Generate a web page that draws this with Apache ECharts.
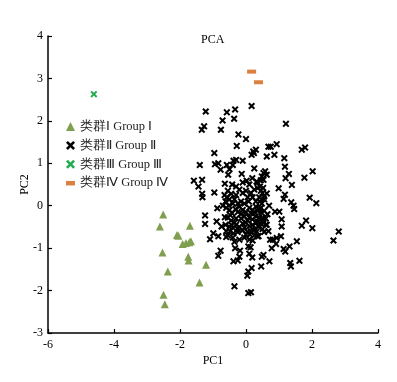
<!DOCTYPE html>
<html><head><meta charset="utf-8">
<script src="https://cdn.jsdelivr.net/npm/echarts@6/dist/echarts.min.js"></script>
<style>html,body{margin:0;padding:0;background:#fff}#c{width:397px;height:382px}</style>
</head><body><div id="c"></div>
<script>
const seriesNames = ['类群Ⅰ Group Ⅰ','类群Ⅱ Group Ⅱ','类群Ⅲ Group Ⅲ','类群Ⅳ Group Ⅳ'];
const xTicks = [-6,-4,-2,0,2,4];
const yTicks = [-3,-2,-1,0,1,2,3,4];
const group1 = [
[-2.51,-0.21],[-2.61,-0.49],[-1.70,-0.47],[-2.09,-0.69],[-2.05,-0.71],[-1.92,-0.90],[-1.82,-0.88],
[-1.72,-0.86],[-1.67,-0.84],[-1.75,-1.20],[-1.74,-1.29],[-2.53,-1.10],[-2.37,-1.55],[-1.21,-1.39],
[-1.41,-1.81],[-2.50,-2.10],[-2.46,-2.32]
];
const group2 = [
[-1.22,2.22],[-0.58,2.20],[-0.33,2.27],[0.17,2.35],[-0.71,2.01],[-0.36,2.05],[-1.27,1.87],[-1.34,1.79],
[-0.76,1.79],[1.21,1.93],[-0.23,1.68],[0.00,1.57],[-0.28,1.41],[0.68,1.39],[0.75,1.39],[0.93,1.45],
[1.69,1.32],[1.79,1.37],[-0.96,1.24],[0.22,1.28],[0.30,1.32],[0.63,1.16],[0.86,1.20],[1.16,1.12],
[-1.40,0.96],[-0.94,0.98],[-0.84,1.00],[-0.38,1.06],[-0.30,1.08],[-0.10,1.06],[0.17,1.20],[0.24,1.24],
[-0.77,0.85],[-0.58,0.96],[-0.50,0.86],[-0.40,0.96],[0.25,0.88],[0.58,0.81],[0.53,0.77],[0.48,0.69],
[0.63,0.73],[0.53,0.61],[1.18,0.92],[1.30,0.75],[1.20,0.65],[2.02,0.81],[1.77,0.66],[-1.58,0.59],
[-1.33,0.61],[-1.44,0.45],[-0.64,0.52],[-0.54,0.73],[-0.13,0.75],[0.02,0.59],[-0.10,0.55],[0.19,0.65],
[0.32,0.57],[1.39,0.49],[0.99,0.41],[-0.96,0.31],[-1.33,0.28],[-1.32,0.20],[1.18,0.26],[1.14,0.16],
[1.93,0.19],[2.13,0.06],[1.37,0.08],[1.44,0.00],[1.46,-0.08],[-0.87,-0.06],[-1.24,-0.23],[-1.24,-0.43],
[-0.89,-0.37],[0.88,-0.14],[1.01,-0.14],[1.08,-0.32],[1.08,-0.49],[1.69,-0.47],[1.82,-0.35],[2.01,-0.53],
[2.65,-0.82],[2.81,-0.61],[-1.09,-0.79],[-0.99,-0.65],[-0.84,-0.72],[-0.60,-0.74],[-0.77,-1.06],[-0.84,-1.18],
[0.38,-0.72],[0.73,-0.80],[0.81,-0.80],[0.93,-0.76],[1.06,-0.72],[0.91,-0.90],[0.78,-1.00],[1.14,-1.02],
[1.19,-1.08],[1.32,-0.96],[1.54,-0.84],[1.34,-1.35],[1.36,-1.43],[1.62,-1.30],[0.71,-1.31],[0.48,-1.20],
[0.53,-1.16],[0.46,-1.43],[0.17,-1.47],[0.07,-1.55],[0.04,-1.65],[0.07,-2.06],[0.15,-2.04],[-0.35,-1.90],
[-0.38,-1.31],[-0.25,-1.29],[-0.20,-1.20],[-0.18,-1.06],[-0.33,-1.00],[0.07,-0.96],[0.14,-0.98],[0.10,-1.13],
[0.19,-1.22],
[-0.55,0.35],[-0.45,0.28],[-0.50,0.15],[-0.62,0.10],[-0.40,0.05],[-0.30,0.25],[-0.20,0.38],[-0.10,0.30],
[0.00,0.35],[0.05,0.20],[0.15,0.30],[0.25,0.38],[0.35,0.42],[0.45,0.35],[0.50,0.30],[0.55,0.15],
[0.40,0.20],[0.30,0.10],[-0.15,0.10],[-0.05,0.05],[-0.60,-0.05],[-0.50,-0.10],[-0.42,-0.18],[-0.32,-0.08],
[-0.20,-0.02],[-0.10,-0.10],[0.00,-0.15],[0.10,-0.05],[0.20,-0.10],[0.30,-0.02],[0.45,-0.05],[0.55,-0.12],
[0.60,-0.30],[0.50,-0.35],[0.40,-0.28],[0.30,-0.25],[0.20,-0.32],[0.10,-0.28],[-0.05,-0.25],[-0.15,-0.30],
[-0.30,-0.30],[-0.45,-0.35],[-0.55,-0.28],[-0.62,-0.45],[-0.50,-0.50],[-0.40,-0.52],[-0.30,-0.45],[-0.20,-0.50],
[-0.10,-0.42],[0.00,-0.40],[0.10,-0.48],[0.20,-0.45],[0.28,-0.55],[0.38,-0.48],[0.50,-0.55],[0.60,-0.45],
[0.15,-0.60],[0.05,-0.62],[-0.10,-0.58],[-0.25,-0.62],[-0.38,-0.65],[-0.48,-0.60],[-0.55,-0.70],[-0.30,0.45],
[-0.42,0.50],[0.10,0.50],[0.35,0.55],[0.45,0.60],[-0.25,-0.15],[0.25,-0.15],[0.35,-0.38],[-0.65,0.25],
[-0.70,0.00],[0.68,-0.60],[0.65,-0.20],[0.70,0.00],[0.25,-0.70],[0.35,-0.72],[-0.05,-0.75],[0.10,-0.80],
[0.20,-0.82],[-0.20,-0.80],[-0.35,-0.85],[0.63,0.29],[0.55,0.22],[0.41,-0.08],[0.48,-0.17],[0.51,-0.29],
[0.53,-0.41],[0.63,-0.45],[0.38,-0.49],[0.22,-0.57],[0.32,-0.61],[-0.64,-0.27],[-0.74,-0.49],
[-0.58,0.20],[-0.35,0.15],[-0.25,0.05],[0.08,0.10],[0.20,0.20],[0.42,0.45],[0.52,0.42],[0.48,0.05],
[-0.48,-0.22],[-0.35,-0.40],[-0.15,-0.20],[0.05,-0.35],[0.15,-0.18],[0.35,-0.12],[0.45,-0.42],[0.55,-0.62],
[-0.45,-0.45],[-0.25,-0.55],[-0.05,-0.52],[0.12,-0.68],[0.30,-0.40],[-0.60,-0.60],[-0.40,-0.75],[0.00,-0.68],
[0.42,0.10],[-0.52,0.00]
];
const group3 = [[-4.61,2.63]];
const group4 = [[0.17,3.16],[0.38,2.91]];

const FONT = '"Liberation Serif","Times New Roman",serif';
const XSYM = 'path://M0,2 L2,0 L5,3 L8,0 L10,2 L7,5 L10,8 L8,10 L5,7 L2,10 L0,8 L3,5 Z';
const DASH = 'path://M0,0 L10,0 L10,5 L0,5 Z';
const chart = echarts.init(document.getElementById('c'), null, {renderer:'canvas'});
chart.setOption({
  animation:false,
  backgroundColor:'#fff',
  title:{text:'PCA', left:201, top:34, padding:0,
    textStyle:{fontFamily:FONT, fontSize:12, fontWeight:'normal', color:'#000'}},
  legend:{
    orient:'vertical', left:66, top:120, padding:0, itemGap:5.9, itemWidth:9, itemHeight:9,
    textStyle:{fontFamily:FONT, fontSize:12.5, color:'#222'},
    data:[
      {name:seriesNames[0], icon:'triangle'},
      {name:seriesNames[1], icon:XSYM},
      {name:seriesNames[2], icon:XSYM},
      {name:seriesNames[3], icon:DASH}
    ]
  },
  grid:{left:48, right:19, top:36, bottom:49},
  xAxis:{type:'value', min:xTicks[0], max:xTicks[xTicks.length-1], interval:2,
    name:'PC1', nameLocation:'middle', nameGap:22, nameMoveOverlap:false,
    nameTextStyle:{fontFamily:FONT, fontSize:12, color:'#000'},
    axisLine:{show:true, onZero:false, lineStyle:{color:'#000', width:1.5}},
    axisTick:{show:true, inside:true, length:4, lineStyle:{color:'#000', width:1.2}},
    axisLabel:{fontFamily:FONT, fontSize:12, color:'#000', margin:6},
    splitLine:{show:false}},
  yAxis:{type:'value', min:yTicks[0], max:yTicks[yTicks.length-1], interval:1,
    name:'PC2', nameLocation:'middle', nameGap:17, nameRotate:90, nameMoveOverlap:false,
    nameTextStyle:{fontFamily:FONT, fontSize:12, color:'#000'},
    axisLine:{show:true, onZero:false, lineStyle:{color:'#000', width:1.5}},
    axisTick:{show:true, inside:true, length:4, lineStyle:{color:'#000', width:1.2}},
    axisLabel:{fontFamily:FONT, fontSize:12, color:'#000', margin:5},
    splitLine:{show:false}},
  series:[
    {name:seriesNames[0], type:'scatter', data:group1, symbol:'triangle', symbolSize:8,
      itemStyle:{color:'#7f9f4e', opacity:1}},
    {name:seriesNames[1], type:'scatter', data:group2, symbol:XSYM, symbolSize:7,
      itemStyle:{color:'#000', opacity:1}},
    {name:seriesNames[2], type:'scatter', data:group3, symbol:XSYM, symbolSize:7,
      itemStyle:{color:'#21ad4f', opacity:1}},
    {name:seriesNames[3], type:'scatter', data:group4, symbol:'rect', symbolSize:[9,4],
      itemStyle:{color:'#dc8040', opacity:1}}
  ]
});
</script></body></html>
